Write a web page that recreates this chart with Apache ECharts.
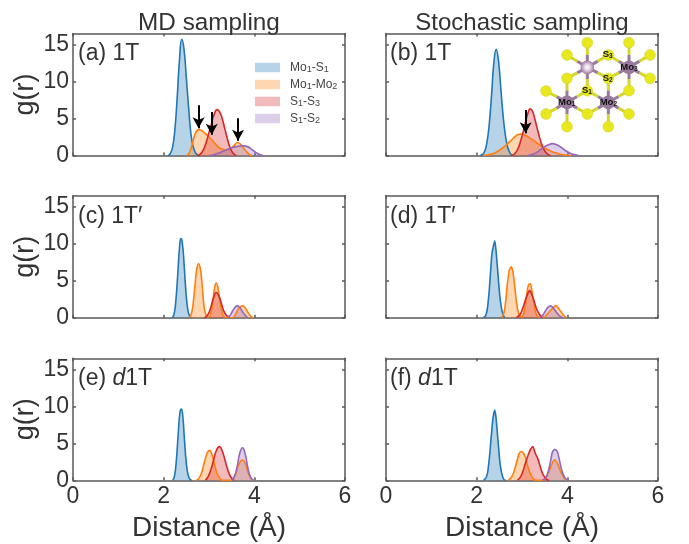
<!DOCTYPE html>
<html><head><meta charset="utf-8">
<style>html,body{margin:0;padding:0;background:#fff}#c{width:689px;height:544px}</style>
<script src="https://cdn.jsdelivr.net/npm/echarts@6/dist/echarts.min.js"></script>
</head><body><div id="c"></div>
<script>
const xTicks = [0, 2, 4, 6];
const yTicks = [0, 5, 10, 15];
const pairNames = ['Mo1-S1', 'Mo1-Mo2', 'S1-S3', 'S1-S2'];
const panelLabels = ['(a) 1T', '(b) 1T', '(c) 1T′', '(d) 1T′', '(e) {i|d}1T', '(f) {i|d}1T'];
const columnTitles = ['MD sampling', 'Stochastic sampling'];

const aMoS = [[2.1,0],[2.15,.3],[2.2,1.2],[2.25,3.7],[2.3,8],[2.35,13],[2.4,15.7],[2.45,14.3],[2.5,10.5],[2.55,6.5],[2.6,3],[2.65,1.2],[2.7,.4],[2.75,.1],[2.8,0]];
const aMoMo = [[2.5,0],[2.55,.2],[2.6,.9],[2.65,2],[2.7,3],[2.77,3.5],[2.85,3.3],[2.95,2.8],[3.05,2.2],[3.15,1.5],[3.25,.95],[3.35,.75],[3.45,.85],[3.55,1.35],[3.63,1.75],[3.7,1.5],[3.8,.7],[3.9,.1],[3.95,0]];
const aS13 = [[2.75,0],[2.8,.15],[2.85,.5],[2.9,1.1],[2.95,2],[3,3.1],[3.05,4.2],[3.1,5.3],[3.18,6.2],[3.25,5.7],[3.3,4.8],[3.35,3.6],[3.4,2.4],[3.45,1.3],[3.5,.6],[3.55,.2],[3.6,0]];
const aS12 = [[3,0],[3.1,.1],[3.2,.3],[3.3,.55],[3.4,.8],[3.5,1.05],[3.6,1.2],[3.75,1.3],[3.85,1.2],[3.95,.8],[4.05,.35],[4.15,.05],[4.2,0]];

const bMoS = [[2.08,0],[2.13,.15],[2.18,.6],[2.23,1.9],[2.28,4.4],[2.33,8.3],[2.38,12.6],[2.43,14.35],[2.48,12.9],[2.53,9.3],[2.58,5.6],[2.63,2.9],[2.68,1.2],[2.73,.4],[2.79,0]];
const bMoMo = [[2.15,0],[2.3,.15],[2.4,.35],[2.5,.7],[2.6,1.15],[2.7,1.7],[2.8,2.3],[2.9,2.8],[2.96,2.9],[3.05,2.8],[3.15,2.45],[3.25,2.05],[3.35,1.6],[3.45,1.2],[3.55,.85],[3.65,.55],[3.75,.33],[3.85,.17],[3.95,.07],[4.1,0]];
const bS13 = [[2.78,0],[2.83,.2],[2.88,.55],[2.93,1.2],[2.98,2.2],[3.03,3.3],[3.08,4.6],[3.13,5.7],[3.18,6.3],[3.23,6],[3.28,5],[3.33,3.8],[3.38,2.6],[3.43,1.6],[3.48,.85],[3.53,.4],[3.58,.12],[3.63,0]];
const bS12 = [[3.12,0],[3.2,.1],[3.3,.35],[3.4,.75],[3.5,1.2],[3.6,1.5],[3.67,1.6],[3.75,1.5],[3.85,1.15],[3.95,.7],[4.05,.35],[4.15,.12],[4.25,0]];

const cMoS = [[2.19,0],[2.23,.5],[2.27,2.4],[2.31,5.8],[2.35,9.5],[2.38,10.7],[2.41,10.2],[2.45,7.3],[2.49,3.6],[2.53,1.2],[2.57,.25],[2.61,0]];
const cMoMo = [[2.57,0],[2.61,.5],[2.65,1.9],[2.69,4.3],[2.73,6.6],[2.77,7.3],[2.81,6.6],[2.85,4.3],[2.89,1.6],[2.93,.4],[2.97,.1],[3,.1],[3.04,.6],[3.08,2],[3.12,3.9],[3.16,4.7],[3.2,3.9],[3.24,2.3],[3.28,.9],[3.32,.2],[3.4,0],[3.52,0],[3.58,.4],[3.64,1.1],[3.7,1.5],[3.74,1.6],[3.8,1.3],[3.86,.7],[3.92,.2],[3.98,0]];
const cS13 = [[2.9,0],[2.95,.2],[3,.7],[3.05,1.6],[3.1,2.7],[3.16,3.4],[3.22,2.9],[3.27,2],[3.32,1],[3.38,.35],[3.45,0]];
const cS12 = [[3.4,0],[3.46,.3],[3.52,.9],[3.58,1.45],[3.62,1.6],[3.67,1.45],[3.72,1],[3.78,.45],[3.85,0]];

const dMoS = [[2.15,0],[2.2,.3],[2.24,1.4],[2.28,3.9],[2.32,7.4],[2.34,8.8],[2.37,9.7],[2.4,10.4],[2.43,8.9],[2.47,5.9],[2.51,3],[2.55,1.2],[2.59,.3],[2.62,0]];
const dMoMo = [[2.55,0],[2.6,.6],[2.64,2.2],[2.68,4.7],[2.72,6.4],[2.76,6.9],[2.8,6.2],[2.84,4.2],[2.88,2],[2.92,.7],[2.96,.15],[3,.1],[3.04,.6],[3.08,1.9],[3.12,3.8],[3.15,4.5],[3.19,4.6],[3.23,3.1],[3.27,1.6],[3.31,.5],[3.36,.1],[3.5,.1],[3.56,.5],[3.62,.9],[3.68,1.3],[3.75,1.67],[3.8,1.3],[3.86,.8],[3.92,.3],[3.98,0]];
const dS13 = [[2.88,0],[2.93,.25],[2.98,.7],[3.03,1.5],[3.08,2.5],[3.13,3.3],[3.17,3.7],[3.22,3.1],[3.27,2.2],[3.32,1.2],[3.38,.5],[3.45,0]];
const dS12 = [[3.4,0],[3.46,.35],[3.52,.95],[3.57,1.4],[3.63,1.6],[3.68,1.4],[3.73,1],[3.79,.5],[3.85,.15],[3.9,0]];

const eMoS = [[2.2,0],[2.24,.6],[2.28,2.7],[2.32,6.2],[2.36,9.2],[2.39,9.65],[2.42,8.8],[2.46,5.4],[2.5,2.3],[2.54,.7],[2.58,.15],[2.62,0]];
const eMoMo = [[2.72,0],[2.78,.3],[2.84,1.1],[2.9,2.5],[2.96,3.7],[3.01,4.05],[3.06,3.6],[3.12,2.2],[3.18,.9],[3.25,.15],[3.3,0],[3.48,0],[3.54,.3],[3.6,1.1],[3.66,2.2],[3.74,2.75],[3.8,2.3],[3.86,1.1],[3.92,.3],[3.98,0]];
const eS13 = [[2.92,0],[2.98,.5],[3.04,1.4],[3.1,2.7],[3.16,4],[3.23,4.55],[3.29,4],[3.35,2.8],[3.41,1.5],[3.47,.55],[3.55,0]];
const eS12 = [[3.5,0],[3.56,.5],[3.62,1.8],[3.68,3.7],[3.74,4.4],[3.8,3.5],[3.86,1.6],[3.92,.4],[3.98,0]];

const fMoS = [[2.15,0],[2.2,.25],[2.24,1],[2.28,3],[2.32,5.8],[2.36,8.4],[2.4,9.5],[2.43,8.3],[2.47,5.4],[2.51,2.6],[2.55,1],[2.6,.1],[2.65,0]];
const fMoMo = [[2.7,0],[2.76,.35],[2.82,1.1],[2.88,2.4],[2.93,3.5],[2.98,3.9],[3.03,3.7],[3.08,3],[3.13,1.8],[3.19,.8],[3.26,.15],[3.32,0],[3.45,0],[3.52,.3],[3.58,1],[3.64,1.9],[3.69,2.6],[3.73,2.75],[3.79,2.2],[3.85,1.2],[3.92,.4],[3.98,0]];
const fS13 = [[2.9,0],[2.96,.4],[3.02,1.2],[3.08,2.4],[3.14,3.5],[3.19,4.2],[3.24,4.55],[3.29,3.7],[3.35,2.9],[3.41,1.7],[3.47,.7],[3.55,.1],[3.6,0]];
const fS12 = [[3.45,0],[3.52,.3],[3.58,1.2],[3.63,2.6],[3.67,3.8],[3.72,4.2],[3.78,3.9],[3.83,2.6],[3.88,1.3],[3.94,.4],[4,0]];

const aArrows = [[[2.77,6.8],[2.77,3.7]],[[3.06,5.9],[3.06,2.8]],[[3.64,5.05],[3.64,2.0]]];
const bArrows = [[[3.08,6.15],[3.08,3.0]]];

const panels = [
  {curves:[aMoS,aMoMo,aS13,aS12], arrows:aArrows, smooth:.5},
  {curves:[bMoS,bMoMo,bS13,bS12], arrows:bArrows, smooth:.5},
  {curves:[cMoS,cMoMo,cS13,cS12], arrows:[], smooth:.5},
  {curves:[dMoS,dMoMo,dS13,dS12], arrows:[], smooth:.2},
  {curves:[eMoS,eMoMo,eS13,eS12], arrows:[], smooth:.5},
  {curves:[fMoS,fMoMo,fS13,fS12], arrows:[], smooth:.2}
];

const colors = ['#1f77b4','#ff7f0e','#d62728','#9467bd'];
const legendFills = ['rgba(31,119,180,.32)','rgba(255,127,14,.32)','rgba(214,39,40,.32)','rgba(148,103,189,.32)'];
const FONT = '"Liberation Sans", Arial, sans-serif';
const INK = '#333';
const FRAME = '#595959';
const lefts = [73, 386], tops = [33.5, 195.7, 358.3];
const W = 272, H = 122;

const grid = [], xAxis = [], yAxis = [], series = [], title = [];
panels.forEach((p, i) => {
  const col = i % 2, row = Math.floor(i / 2);
  grid.push({left: lefts[col], top: tops[row], width: W, height: H, containLabel:false, outerBoundsMode:'none'});
  const line = {show:true, onZero:false, lineStyle:{color:FRAME, width:1.5}};
  const tick = {show:true, inside:true, length:3, lineStyle:{color:FRAME, width:1.5}};
  const xBase = {type:'value', gridIndex:i, min:0, max:6, interval:2, splitLine:{show:false}, axisLine:line, axisTick:tick};
  xAxis.push({...xBase, position:'bottom',
    axisLabel:{show:row===2, fontSize:23, color:INK, fontFamily:FONT, margin:5, customValues:xTicks, showMinLabel:true, showMaxLabel:true},
    name: row===2 ? 'Distance (Å)' : '', nameLocation:'middle', nameGap:34,
    nameTextStyle:{fontSize:28, color:INK, fontFamily:FONT}});
  xAxis.push({...xBase, position:'top', axisLabel:{show:false}});
  const yBase = {type:'value', gridIndex:i, min:0, max:16.5, splitLine:{show:false}, axisLine:line,
    axisTick:{...tick, customValues:yTicks}};
  yAxis.push({...yBase, position:'left',
    axisLabel:{show:col===0, fontSize:23, color:INK, fontFamily:FONT, margin:4, customValues:yTicks},
    name: col===0 ? 'g(r)' : '', nameLocation:'middle', nameGap:28,
    nameTextStyle:{fontSize:27, color:INK, fontFamily:FONT}});
  yAxis.push({...yBase, position:'right', axisLabel:{show:false}});

  p.curves.forEach((data, k) => series.push({
    type:'line', name:pairNames[k], xAxisIndex:2*i, yAxisIndex:2*i, data,
    showSymbol:false, symbol:'none', smooth:p.smooth,
    lineStyle:{color:colors[k], width:1.6}, itemStyle:{color:colors[k]},
    areaStyle:{color:colors[k], opacity:.32}, silent:true
  }));
  if (p.arrows.length) series.push({
    type:'line', name:'arrows', xAxisIndex:2*i, yAxisIndex:2*i, data:[], silent:true, z:9,
    markLine:{silent:true, animation:false, symbol:['none','arrow'], symbolSize:[9,11], label:{show:false},
      lineStyle:{color:'#000', width:2, type:'solid'},
      data:p.arrows.map(a => [{coord:a[0]},{coord:a[1]}])}
  });
  title.push({text:panelLabels[i], left:lefts[col]-(col?1:0), top:tops[row]+4,
    textStyle:{fontSize:23, fontWeight:'normal', color:INK, fontFamily:FONT,
      rich:{i:{fontSize:23, fontStyle:'italic', color:INK, fontFamily:FONT}}}});
});
title.push({text:columnTitles[0], left:204, top:6, textAlign:'center', textStyle:{fontSize:24.3, fontWeight:'normal', color:INK, fontFamily:FONT}});
title.push({text:columnTitles[1], left:517, top:6, textAlign:'center', textStyle:{fontSize:24, fontWeight:'normal', color:INK, fontFamily:FONT}});

const subLabel = s => s.replace(/([A-Za-z]+)(\d)/g, '{t|$1}{s|$2}').replace('-', '{t|-}');
const legend = {
  left:255, top:61.5, orient:'vertical', itemWidth:25, itemHeight:9.5, itemGap:4, padding:0, selectedMode:false,
  data:pairNames.map((n,k)=>({name:n, icon:'rect', itemStyle:{color:legendFills[k], borderWidth:0, opacity:1}})),
  formatter:subLabel,
  textStyle:{padding:[0,0,0,5], rich:{t:{fontSize:12,color:'#444',fontFamily:FONT,height:14,verticalAlign:'middle'},
    s:{fontSize:9,color:'#444',fontFamily:FONT,height:9,verticalAlign:'bottom'}}}
};

// Inset illustration of the crystal structure (schematic, not data)
const sulfur = [[262,38],[387,38],[201,75],[325,75],[450,75],[201,145],[325,145],[450,145],[262,182],[387,182],[138,183],[138,252],[262,252],[387,252],[201,290],[325,290]];
const metals = [
  {at:[262,112], bonds:[[262,38],[201,75],[325,75],[201,145],[325,145],[262,182]], glow:true},
  {at:[387,112], bonds:[[387,38],[325,75],[450,75],[325,145],[450,145],[387,182]]},
  {at:[201,217], bonds:[[201,145],[138,183],[262,182],[138,252],[262,252],[201,290]]},
  {at:[325,217], bonds:[[325,145],[262,182],[387,182],[262,252],[387,252],[325,290]]}
];
const atomTags = [['S','3',323,73],['S','2',323,146],['S','1',261,182],['Mo','3',387,112],['Mo','1',200,217],['Mo','2',325,217]];
const ix = v => 500 + v/3, iy = v => 30 + v/3;
const graphic = [];
metals.forEach(m => m.bonds.forEach(b => {
  const mid = [(m.at[0]+b[0])/2, (m.at[1]+b[1])/2];
  graphic.push({type:'line', z:20, silent:true, shape:{x1:ix(m.at[0]),y1:iy(m.at[1]),x2:ix(mid[0]),y2:iy(mid[1])}, style:{stroke:'#9a7a9c',lineWidth:3}});
  graphic.push({type:'line', z:20, silent:true, shape:{x1:ix(mid[0]),y1:iy(mid[1]),x2:ix(b[0]),y2:iy(b[1])}, style:{stroke:'#d6d62e',lineWidth:3}});
}));
sulfur.forEach(s => graphic.push({type:'circle', z:21, silent:true, shape:{cx:ix(s[0]),cy:iy(s[1]),r:5.4}, style:{fill:'#e8e81e',stroke:'#cfcf30',lineWidth:.5}}));
metals.forEach(m => graphic.push({type:'circle', z:21, silent:true, shape:{cx:ix(m.at[0]),cy:iy(m.at[1]),r:6.8},
  style:{fill: m.glow ? {type:'radial',x:.5,y:.5,r:.5,colorStops:[{offset:0,color:'#fff'},{offset:.45,color:'#e6cfe6'},{offset:1,color:'#9a7a9c'}]} : '#9a7a9c'}}));
atomTags.forEach(t => graphic.push({type:'text', z:22, silent:true, x:ix(t[2]), y:iy(t[3]),
  style:{text:`{b|${t[0]}}{u|${t[1]}}`, align:'center', verticalAlign:'middle', fill:'#111',
    rich:{b:{fontSize:9.5,fontWeight:'bold',fill:'#111',fontFamily:FONT,height:10,verticalAlign:'middle'},
      u:{fontSize:6.5,fontWeight:'bold',fill:'#111',fontFamily:FONT,height:7,verticalAlign:'bottom'}}}}));

const chart = echarts.init(document.getElementById('c'), null, {renderer:'canvas'});
chart.setOption({animation:false, backgroundColor:'#fff', grid, xAxis, yAxis, series, title, legend, graphic});
</script></body></html>
